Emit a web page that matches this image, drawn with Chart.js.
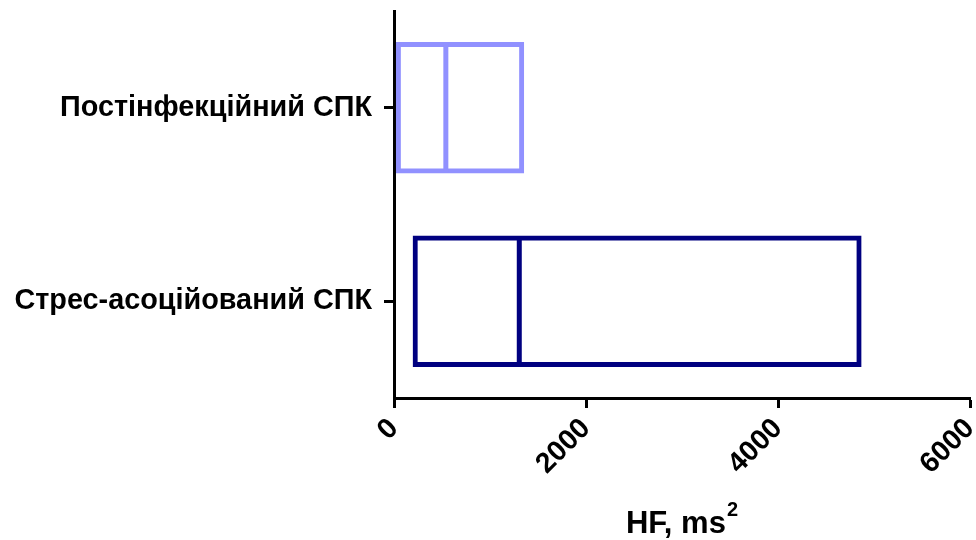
<!DOCTYPE html>
<html>
<head>
<meta charset="utf-8">
<script src="https://cdn.jsdelivr.net/npm/chart.js@4/dist/chart.umd.min.js"></script>
<style>
  html, body { margin: 0; padding: 0; background: #fff; }
  canvas { display: block; }
</style>
</head>
<body>
<canvas id="c" width="976" height="540"></canvas>
<script>
// Box ranges (quartiles) and medians of HF power per group
const groups = ['Постінфекційний СПК', 'Стрес-асоційований СПК'];
const q1 = [40, 215];
const median = [540, 1305];
const q3 = [1335, 4850];
const xTicks = [0, 2000, 4000, 6000];
const boxColors = ['#9191FF', '#000080'];
const axisTitle = 'HF, ms';
const axisTitleSup = '2';

const FAMILY = 'Liberation Sans, Arial, sans-serif';
const boldFont = (size) => ({ family: FAMILY, weight: 'bold', size });

// Median line across each box, positioned with the x scale
const medianLines = {
  id: 'medianLines',
  afterDatasetsDraw(chart) {
    const ctx = chart.ctx;
    const xs = chart.scales.x;
    chart.getDatasetMeta(0).data.forEach((bar, i) => {
      const px = xs.getPixelForValue(median[i]);
      const h = bar.height;
      ctx.save();
      ctx.strokeStyle = boxColors[i];
      ctx.lineWidth = 5;
      ctx.beginPath();
      ctx.moveTo(px, bar.y - h / 2);
      ctx.lineTo(px, bar.y + h / 2);
      ctx.stroke();
      ctx.restore();
    });
  }
};

// X axis title with a raised exponent
const xTitle = {
  id: 'xTitle',
  afterDraw(chart) {
    const ctx = chart.ctx;
    const area = chart.chartArea;
    const mainFont = 'bold 31px ' + FAMILY;
    const supFont = 'bold 20px ' + FAMILY;
    ctx.save();
    ctx.fillStyle = '#000';
    ctx.textBaseline = 'alphabetic';
    ctx.textAlign = 'left';
    ctx.font = mainFont;
    const w1 = ctx.measureText(axisTitle).width;
    ctx.font = supFont;
    const w2 = ctx.measureText(axisTitleSup).width;
    const x0 = (area.left + area.right) / 2 - (w1 + w2 + 1) / 2;
    const base = 533;
    ctx.font = mainFont;
    ctx.fillText(axisTitle, x0, base);
    ctx.font = supFont;
    ctx.fillText(axisTitleSup, x0 + w1 + 1, base - 17);
    ctx.restore();
  }
};

new Chart(document.getElementById('c'), {
  type: 'bar',
  data: {
    labels: groups,
    datasets: [{
      data: groups.map((g, i) => [q1[i], q3[i]]),
      backgroundColor: 'rgba(255,255,255,0)',
      borderColor: boxColors,
      borderWidth: 1,
      inflateAmount: 2,
      borderSkipped: false,
      barPercentage: 0.66,
      categoryPercentage: 1
    }]
  },
  options: {
    indexAxis: 'y',
    responsive: false,
    animation: false,
    devicePixelRatio: 1,
    layout: { padding: { top: 11, right: 6, left: 0, bottom: 0 } },
    plugins: { legend: { display: false }, tooltip: { enabled: false } },
    scales: {
      x: {
        type: 'linear',
        min: 0,
        max: 6000,
        afterBuildTicks(scale) { scale.ticks = xTicks.map(v => ({ value: v })); },
        afterFit(scale) {
          scale.height = 142;
          scale.paddingLeft = 0;
          scale.paddingRight = 0;
        },
        ticks: {
          color: '#000',
          font: boldFont(28.5),
          minRotation: 45,
          maxRotation: 45,
          padding: 4,
          callback: (v) => String(v)
        },
        grid: {
          drawOnChartArea: false,
          drawTicks: true,
          tickLength: 10,
          tickColor: '#000',
          tickWidth: 3
        },
        border: { display: true, color: '#000', width: 3 }
      },
      y: {
        type: 'category',
        afterFit(scale) {
          scale.width = 394;
          scale.paddingTop = 0;
          scale.paddingBottom = 0;
        },
        ticks: {
          color: '#000',
          font: boldFont(28.8),
          padding: 12
        },
        grid: {
          offset: false,
          drawOnChartArea: false,
          drawTicks: true,
          tickLength: 10,
          tickColor: '#000',
          tickWidth: 3
        },
        border: { display: true, color: '#000', width: 3 }
      }
    }
  },
  plugins: [medianLines, xTitle]
});
</script>
</body>
</html>
